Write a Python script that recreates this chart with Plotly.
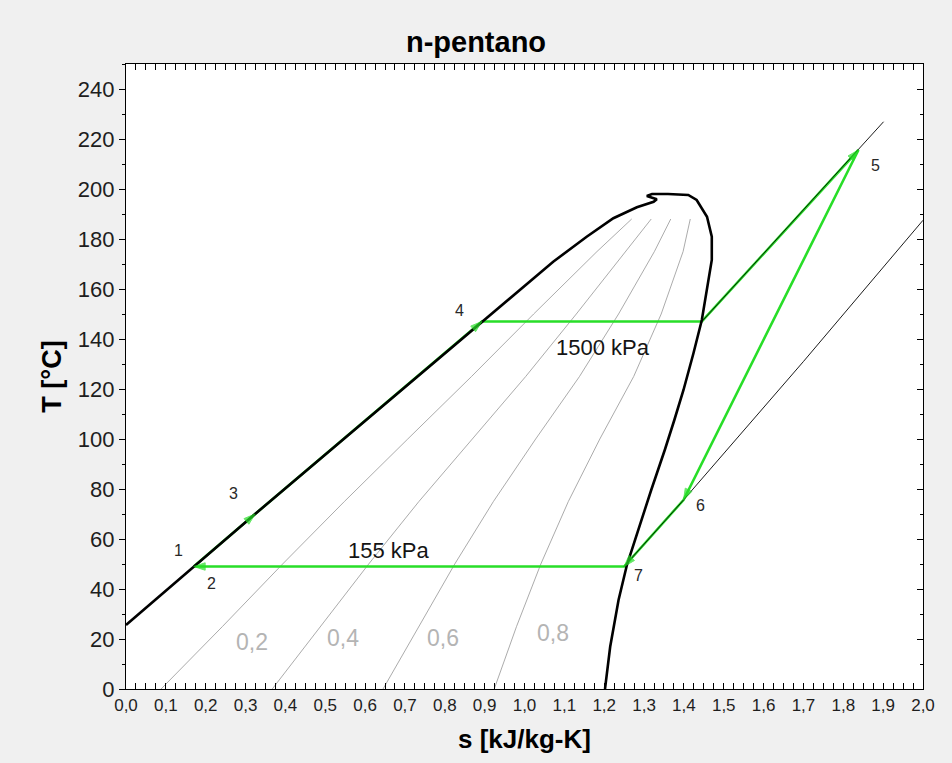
import plotly.graph_objects as go

# ---- data ----
# saturation dome (liquid line, critical region, vapour line)
dome_s = [0.0, 0.17, 0.324, 0.55, 0.75, 0.893, 0.989, 1.072, 1.156, 1.223, 1.282, 1.324, 1.332,
          1.307, 1.320, 1.360, 1.411, 1.432, 1.458, 1.470, 1.470, 1.458, 1.445, 1.424, 1.399,
          1.376, 1.352, 1.318, 1.285, 1.257, 1.236, 1.215, 1.202]
dome_T = [25.6, 49.0, 70.0, 100.5, 127.5, 147.0, 159.6, 170.9, 180.9, 188.3, 192.7, 194.9, 195.9,
          197.2, 198.0, 198.0, 197.6, 195.6, 188.9, 180.9, 171.6, 159.6, 147.6, 134.3, 119.6,
          107.6, 95.6, 79.6, 63.6, 49.6, 35.6, 16.9, 0.0]

# constant-quality lines
q_T = [0, 25, 50, 75, 100, 125, 150, 175, 188]
q02_s = [0.088, 0.242, 0.393, 0.548, 0.707, 0.867, 1.023, 1.182, 1.269]
q04_s = [0.367, 0.488, 0.609, 0.735, 0.868, 1.003, 1.130, 1.254, 1.318]
q06_s = [0.645, 0.734, 0.825, 0.922, 1.028, 1.138, 1.236, 1.326, 1.367]
q08_s = [0.924, 0.980, 1.041, 1.110, 1.189, 1.274, 1.343, 1.398, 1.416]
q_labels = ["0,2", "0,4", "0,6", "0,8"]
q_label_s = [0.315, 0.545, 0.796, 1.072]
q_label_T = [18.9, 20.3, 20.3, 22.3]

# superheated isobars
p_high_s = [1.445, 1.838, 1.901]
p_high_T = [147.0, 215.6, 226.9]
p_low_s = [1.25, 1.399, 1.70, 2.0]
p_low_T = [49.0, 75.6, 131.0, 187.5]

# cycle (green) path: 2 -> 3 -> 4 -> sat. vapour -> 5 -> 6 -> 7 -> 1
cyc_s = [0.17, 0.324, 0.893, 1.445, 1.838, 1.399, 1.25, 0.17]
cyc_T = [49.0, 70.0, 147.0, 147.0, 215.6, 75.6, 49.0, 49.0]
cyc_size = [12, 12, 12, 0, 12, 12, 12, 12]

# state labels
st_labels = ["1", "2", "3", "4", "5", "6", "7"]
st_s = [0.131, 0.215, 0.269, 0.838, 1.880, 1.441, 1.286]
st_T = [55.6, 42.3, 78.3, 151.6, 209.6, 73.6, 45.6]

# pressure labels
p_labels = ["1500 kPa", "155 kPa"]
p_label_s = [1.196, 0.659]
p_label_T = [136.6, 55.6]

x_ticks = [round(i * 0.1, 1) for i in range(21)]
y_ticks = list(range(0, 241, 20))

FONT = "Liberation Sans, Arial, sans-serif"
GREEN = "rgb(40,222,40)"

fig = go.Figure()

for qs in (q02_s, q04_s, q06_s, q08_s):
    fig.add_trace(go.Scatter(x=qs, y=q_T, mode="lines",
                             line=dict(color="rgb(150,150,150)", width=0.8),
                             hoverinfo="skip", showlegend=False))

fig.add_trace(go.Scatter(x=cyc_s, y=cyc_T, mode="lines",
                         line=dict(color=GREEN, width=2.6),
                         showlegend=False))

fig.add_trace(go.Scatter(x=p_high_s, y=p_high_T, mode="lines",
                         line=dict(color="black", width=0.9), showlegend=False))
fig.add_trace(go.Scatter(x=p_low_s, y=p_low_T, mode="lines",
                         line=dict(color="black", width=0.9), showlegend=False))

fig.add_trace(go.Scatter(x=dome_s, y=dome_T, mode="lines",
                         line=dict(color="black", width=2.6), showlegend=False))

# arrow-head markers at the cycle states (drawn on top)
fig.add_trace(go.Scatter(x=cyc_s, y=cyc_T, mode="markers",
                         marker=dict(symbol="arrow", size=cyc_size, color=GREEN,
                                     angleref="previous",
                                     line=dict(color=GREEN, width=1)),
                         showlegend=False))

# helper trace for the right-hand axis (inside ticks)
fig.add_trace(go.Scatter(x=[None], y=[None], yaxis="y2", mode="markers",
                         showlegend=False, hoverinfo="skip"))

for t, s, T in zip(q_labels, q_label_s, q_label_T):
    fig.add_annotation(x=s, y=T, text=t, showarrow=False,
                       font=dict(family=FONT, size=23, color="rgb(180,180,180)"))
for t, s, T in zip(st_labels, st_s, st_T):
    fig.add_annotation(x=s, y=T, text=t, showarrow=False,
                       font=dict(family=FONT, size=16, color="rgb(40,40,40)"))
for t, s, T in zip(p_labels, p_label_s, p_label_T):
    fig.add_annotation(x=s, y=T, text=t, showarrow=False,
                       font=dict(family=FONT, size=22, color="rgb(20,20,20)"))

fig.update_layout(
    width=952, height=763,
    margin=dict(l=126, r=29, t=64, b=74),
    paper_bgcolor="rgb(240,240,240)",
    plot_bgcolor="white",
    separators=",.",
    title=dict(text="n-pentano", x=0.5, xref="container", xanchor="center",
               y=1 - 42 / 763, yref="container", yanchor="middle",
               font=dict(family=FONT, size=29, color="black", weight="bold")),
    xaxis=dict(range=[0, 2.0], tickvals=x_ticks, tickformat=".1f",
               ticks="inside", ticklen=6, tickcolor="black",
               minor=dict(ticks="inside", dtick=0.025, ticklen=3, tickcolor="black"),
               mirror="allticks", showline=True, linecolor="black", linewidth=1.2,
               showgrid=False, zeroline=False,
               tickfont=dict(family=FONT, size=17, color="rgb(30,30,30)"),
               title=dict(text="s [kJ/kg-K]", standoff=16,
                          font=dict(family=FONT, size=26, color="black", weight="bold"))),
    yaxis=dict(range=[0, 250], tickvals=y_ticks,
               ticks="outside", ticklen=6, tickcolor="black",
               minor=dict(ticks="outside", dtick=10, ticklen=3, tickcolor="black"),
               mirror=True, showline=True, linecolor="black", linewidth=1.2,
               showgrid=False, zeroline=False,
               tickfont=dict(family=FONT, size=22, color="rgb(30,30,30)"),
               title=dict(text="T [°C]", standoff=8,
                          font=dict(family=FONT, size=27, color="black", weight="bold"))),
    yaxis2=dict(range=[0, 250], overlaying="y", side="right", tickvals=y_ticks,
                ticks="inside", ticklen=6, tickcolor="black",
                minor=dict(ticks="inside", dtick=10, ticklen=3, tickcolor="black"),
                showticklabels=False, showline=True, linecolor="black", linewidth=1.2,
                showgrid=False, zeroline=False),
)

fig.write_html("out.html")
